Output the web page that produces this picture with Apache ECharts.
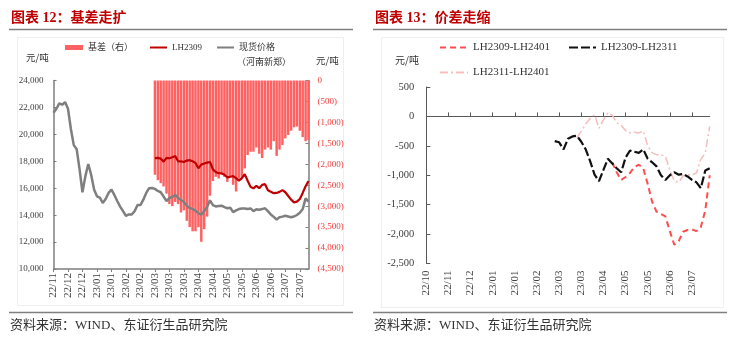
<!DOCTYPE html>
<html><head><meta charset="utf-8">
<script src="https://cdn.jsdelivr.net/npm/echarts@6/dist/echarts.min.js"></script>
<style>html,body{margin:0;padding:0;background:#fff}#c{width:739px;height:345px}</style>
</head><body><div id="c"></div><script>
// ---------- tick labels ----------
const leftTickLabels = ['22/11','22/12','22/12','23/01','23/01','23/02','23/02','23/03','23/03','23/03','23/04','23/04','23/05','23/05','23/06','23/06','23/07','23/07'];
const rightTickLabels = ['22/10','22/11','22/12','23/01','23/01','23/02','23/03','23/03','23/04','23/05','23/05','23/06','23/07'];
const leftStep = 5, leftCount = 89;
const rightStep = 5, rightCount = 65;

// ---------- left chart data ----------
const spotPrice = [21600,21900,22300,22200,22400,21900,20400,19200,18900,17400,15700,16900,17800,17000,15900,15400,15300,14900,15200,15650,15900,15500,15050,14630,14300,13950,14050,14050,14300,14750,14750,15150,15650,16000,16020,15950,15800,15700,15380,15050,15260,15350,15500,15280,15130,14980,14700,14530,14460,14330,14150,14030,14300,14600,15100,14750,14650,14680,14700,14600,14510,14550,14220,14350,14450,14500,14500,14450,14500,14300,14430,14400,14450,14510,14300,14050,13870,13680,13850,13890,13950,13900,13850,13900,14010,14180,14450,15250,15000];
const lh2309Start = 35;
const lh2309 = [18230,18250,18200,17970,18250,18220,18300,18390,18000,17990,17950,18050,18080,18000,17880,17480,17750,17830,17900,17950,17400,17200,17110,17110,17000,16800,16850,16900,16750,16560,16750,17050,16550,16100,15990,16180,16000,16250,16300,15850,15740,15630,15650,15730,15860,15700,15420,15150,14950,15000,15200,15650,16150,16540];
const basisStart = 35;
const basis = [-2250,-2380,-2450,-2530,-2700,-2950,-3000,-2900,-2950,-3150,-3100,-3350,-3500,-3600,-3600,-3500,-3850,-3550,-3250,-2750,-2400,-2300,-2340,-2250,-2300,-2420,-2300,-2490,-2650,-2340,-2300,-2100,-1780,-1700,-1700,-1600,-1750,-1850,-1650,-1600,-1650,-1450,-1800,-1650,-1540,-1380,-1300,-1200,-1120,-1100,-1200,-1350,-1450,-1420];

// ---------- right chart data ----------
const spread0901Start = 42;
const spread0901 = [-780,-950,-1080,-1030,-960,-860,-820,-880,-1150,-1450,-1620,-1660,-1700,-1950,-2180,-2120,-1960,-1930,-1920,-1950,-1880,-1600,-1000];
const spread0911Start = 29;
const spread0911 = [-420,-440,-560,-380,-340,-330,-430,-560,-760,-990,-1100,-910,-720,-800,-880,-950,-700,-580,-600,-620,-560,-720,-780,-850,-1000,-1080,-1000,-950,-990,-980,-1020,-1080,-1120,-1220,-920,-880];
const spread1101Start = 34;
const spread1101 = [-360,-250,-130,-30,30,-200,-60,60,20,-110,-150,-240,-280,-270,-280,-250,-500,-620,-650,-650,-680,-910,-1100,-1120,-1010,-990,-1000,-960,-730,-620,-170];

function pad(arr, start, total) {
  const out = new Array(total).fill(null);
  arr.forEach((v, i) => { out[start + i] = v; });
  return out;
}
const leftCats = Array.from({length: leftCount}, (_, i) => 'L' + i);
const rightCats = Array.from({length: rightCount}, (_, i) => 'R' + i);

const SERIF = "'Liberation Serif','Times New Roman','Noto Sans CJK SC',serif";
const CJK = "'Liberation Serif','Noto Sans CJK SC',sans-serif";
const AX = '#7f7f7f';
const TXT = '#404040';

function lineLegend(name, left, top, w, fs, fam) {
  return {data: [name], left: left, top: top, padding: 0, itemWidth: w, itemHeight: 10, selectedMode: false,
    itemStyle: {opacity: 0, borderWidth: 0},
    textStyle: {fontSize: fs, fontFamily: fam, color: '#333'}};
}

const chart = echarts.init(document.getElementById('c'), null, {renderer: 'canvas'});
chart.setOption({
  animation: false,
  backgroundColor: '#ffffff',
  grid: [
    {left: 53.5, top: 80.5, width: 255, height: 188.5},
    {left: 426.3, top: 87, width: 283.4, height: 176.5}
  ],
  xAxis: [
    {gridIndex: 0, type: 'category', data: leftCats, boundaryGap: false,
     axisLine: {onZero: false, lineStyle: {color: AX, width: 1.5}},
     axisTick: {interval: leftStep - 1, length: 3, lineStyle: {color: AX}},
     axisLabel: {interval: leftStep - 1, rotate: 90, margin: 4, fontSize: 11, fontFamily: SERIF, color: TXT,
       formatter: (v, i) => leftTickLabels[Math.round(i / leftStep)]}},
    {gridIndex: 1, type: 'category', data: rightCats, boundaryGap: false,
     axisLine: {onZero: true, lineStyle: {color: '#595959', width: 1}},
     axisTick: {inside: true, interval: rightStep - 1, length: 4, lineStyle: {color: '#595959'}},
     axisLabel: {interval: rightStep - 1, rotate: 90, margin: 7, fontSize: 11, fontFamily: SERIF, color: TXT,
       formatter: (v, i) => rightTickLabels[Math.round(i / rightStep)]}}
  ],
  yAxis: [
    {gridIndex: 0, type: 'value', position: 'left', min: 10000, max: 24000, interval: 2000,
     axisLine: {show: true, lineStyle: {color: AX, width: 1.5}},
     axisTick: {show: true, inside: true, length: 3, lineStyle: {color: AX}},
     splitLine: {show: false},
     axisLabel: {margin: 10, fontSize: 9, fontFamily: SERIF, color: TXT, formatter: v => v.toLocaleString('en-US')}},
    {gridIndex: 0, type: 'value', position: 'right', min: -4500, max: 0, interval: 500,
     axisLine: {show: true, lineStyle: {color: AX, width: 1.5}},
     axisTick: {show: true, inside: true, length: 3, lineStyle: {color: AX}},
     splitLine: {show: false},
     axisLabel: {margin: 9, fontSize: 9, fontFamily: SERIF, color: '#F03C3C',
       formatter: v => v === 0 ? '0' : '(' + Math.abs(v).toLocaleString('en-US') + ')'}},
    {gridIndex: 1, type: 'value', position: 'left', min: -2500, max: 500, interval: 500,
     axisLine: {show: true, lineStyle: {color: '#595959', width: 1}},
     axisTick: {show: true, inside: true, length: 4, lineStyle: {color: '#595959'}},
     splitLine: {show: false},
     axisLabel: {margin: 12, fontSize: 10.5, fontFamily: SERIF, color: TXT, formatter: v => v.toLocaleString('en-US')}}
  ],
  legend: [
    {data: ['基差（右）'], left: 65, top: 43, padding: 0, icon: 'rect', itemWidth: 18, itemHeight: 5, selectedMode: false,
     textStyle: {fontSize: 9, fontFamily: CJK, color: '#333'}},
    lineLegend('LH2309', 149, 43, 17, 9, SERIF),
    lineLegend('现货价格', 216, 43, 17, 9, CJK),
    lineLegend('LH2309-LH2401', 439, 42, 28, 11, SERIF),
    lineLegend('LH2309-LH2311', 568, 42, 27, 11, SERIF),
    lineLegend('LH2311-LH2401', 439, 67, 28, 11, SERIF)
  ],
  series: [
    {name: '基差（右）', type: 'bar', xAxisIndex: 0, yAxisIndex: 1, data: pad(basis, basisStart, leftCount),
     barWidth: '85%', itemStyle: {color: '#FF6161'}, z: 1},
    {name: '现货价格', type: 'line', xAxisIndex: 0, yAxisIndex: 0, data: spotPrice, symbol: 'none',
     lineStyle: {color: '#7f7f7f', width: 2.5}, itemStyle: {color: '#7f7f7f'}, z: 3},
    {name: 'LH2309', type: 'line', xAxisIndex: 0, yAxisIndex: 0, data: pad(lh2309, lh2309Start, leftCount), symbol: 'none',
     lineStyle: {color: '#C00000', width: 2.2}, itemStyle: {color: '#C00000'}, z: 4},
    {name: 'LH2309-LH2401', type: 'line', xAxisIndex: 1, yAxisIndex: 2, data: pad(spread0901, spread0901Start, rightCount), symbol: 'none',
     lineStyle: {color: '#FF4D4D', width: 2, type: [6, 4]}, itemStyle: {color: '#FF4D4D'}, z: 3},
    {name: 'LH2309-LH2311', type: 'line', xAxisIndex: 1, yAxisIndex: 2, data: pad(spread0911, spread0911Start, rightCount), symbol: 'none',
     lineStyle: {color: '#111111', width: 2.2, type: [9, 3]}, itemStyle: {color: '#111111'}, z: 4},
    {name: 'LH2311-LH2401', type: 'line', xAxisIndex: 1, yAxisIndex: 2, data: pad(spread1101, spread1101Start, rightCount), symbol: 'none',
     lineStyle: {color: '#F7BDBD', width: 1.5, type: [8, 3, 2, 3]}, itemStyle: {color: '#F7BDBD'}, z: 2}
  ],
  graphic: [
    {type: 'rect', z: -10, shape: {x: 17.5, y: 37.5, width: 326, height: 268}, style: {fill: 'none', stroke: '#efefef', lineWidth: 1}},
    {type: 'rect', z: -10, shape: {x: 381.5, y: 37.5, width: 342, height: 270}, style: {fill: 'none', stroke: '#efefef', lineWidth: 1}},
    {type: 'text', style: {x: 11, y: 18, text: '图表 12：基差走扩', font: "bold 14px 'Liberation Serif','Noto Sans CJK SC'", fill: '#C00000', verticalAlign: 'middle'}},
    {type: 'text', style: {x: 375, y: 18, text: '图表 13：价差走缩', font: "bold 14px 'Liberation Serif','Noto Sans CJK SC'", fill: '#C00000', verticalAlign: 'middle'}},
    {type: 'line', shape: {x1: 9, y1: 29.5, x2: 353, y2: 29.5}, style: {stroke: '#7f7f7f', lineWidth: 1.5}},
    {type: 'line', shape: {x1: 373, y1: 29.5, x2: 727, y2: 29.5}, style: {stroke: '#7f7f7f', lineWidth: 1.5}},
    {type: 'line', shape: {x1: 9, y1: 312.5, x2: 353, y2: 312.5}, style: {stroke: '#7f7f7f', lineWidth: 1.5}},
    {type: 'line', shape: {x1: 373, y1: 312.5, x2: 727, y2: 312.5}, style: {stroke: '#7f7f7f', lineWidth: 1.5}},
    {type: 'text', style: {x: 10, y: 326, text: '资料来源：WIND、东证衍生品研究院', font: "13px 'Liberation Serif','Noto Sans CJK SC'", fill: '#333', verticalAlign: 'middle'}},
    {type: 'text', style: {x: 374, y: 326, text: '资料来源：WIND、东证衍生品研究院', font: "13px 'Liberation Serif','Noto Sans CJK SC'", fill: '#333', verticalAlign: 'middle'}},
    {type: 'text', style: {x: 26, y: 57.5, text: '元/吨', font: "9.5px 'Noto Sans CJK SC'", fill: '#333', verticalAlign: 'middle'}},
    {type: 'text', style: {x: 316, y: 60, text: '元/吨', font: "9.5px 'Noto Sans CJK SC'", fill: '#333', verticalAlign: 'middle'}},
    {type: 'text', style: {x: 237, y: 61.5, text: '（河南新郑）', font: "9px 'Noto Sans CJK SC'", fill: '#333', verticalAlign: 'middle'}},
    {type: 'text', style: {x: 395, y: 60, text: '元/吨', font: "10px 'Noto Sans CJK SC'", fill: '#333', verticalAlign: 'middle'}}
  ]
});
</script></body></html>
